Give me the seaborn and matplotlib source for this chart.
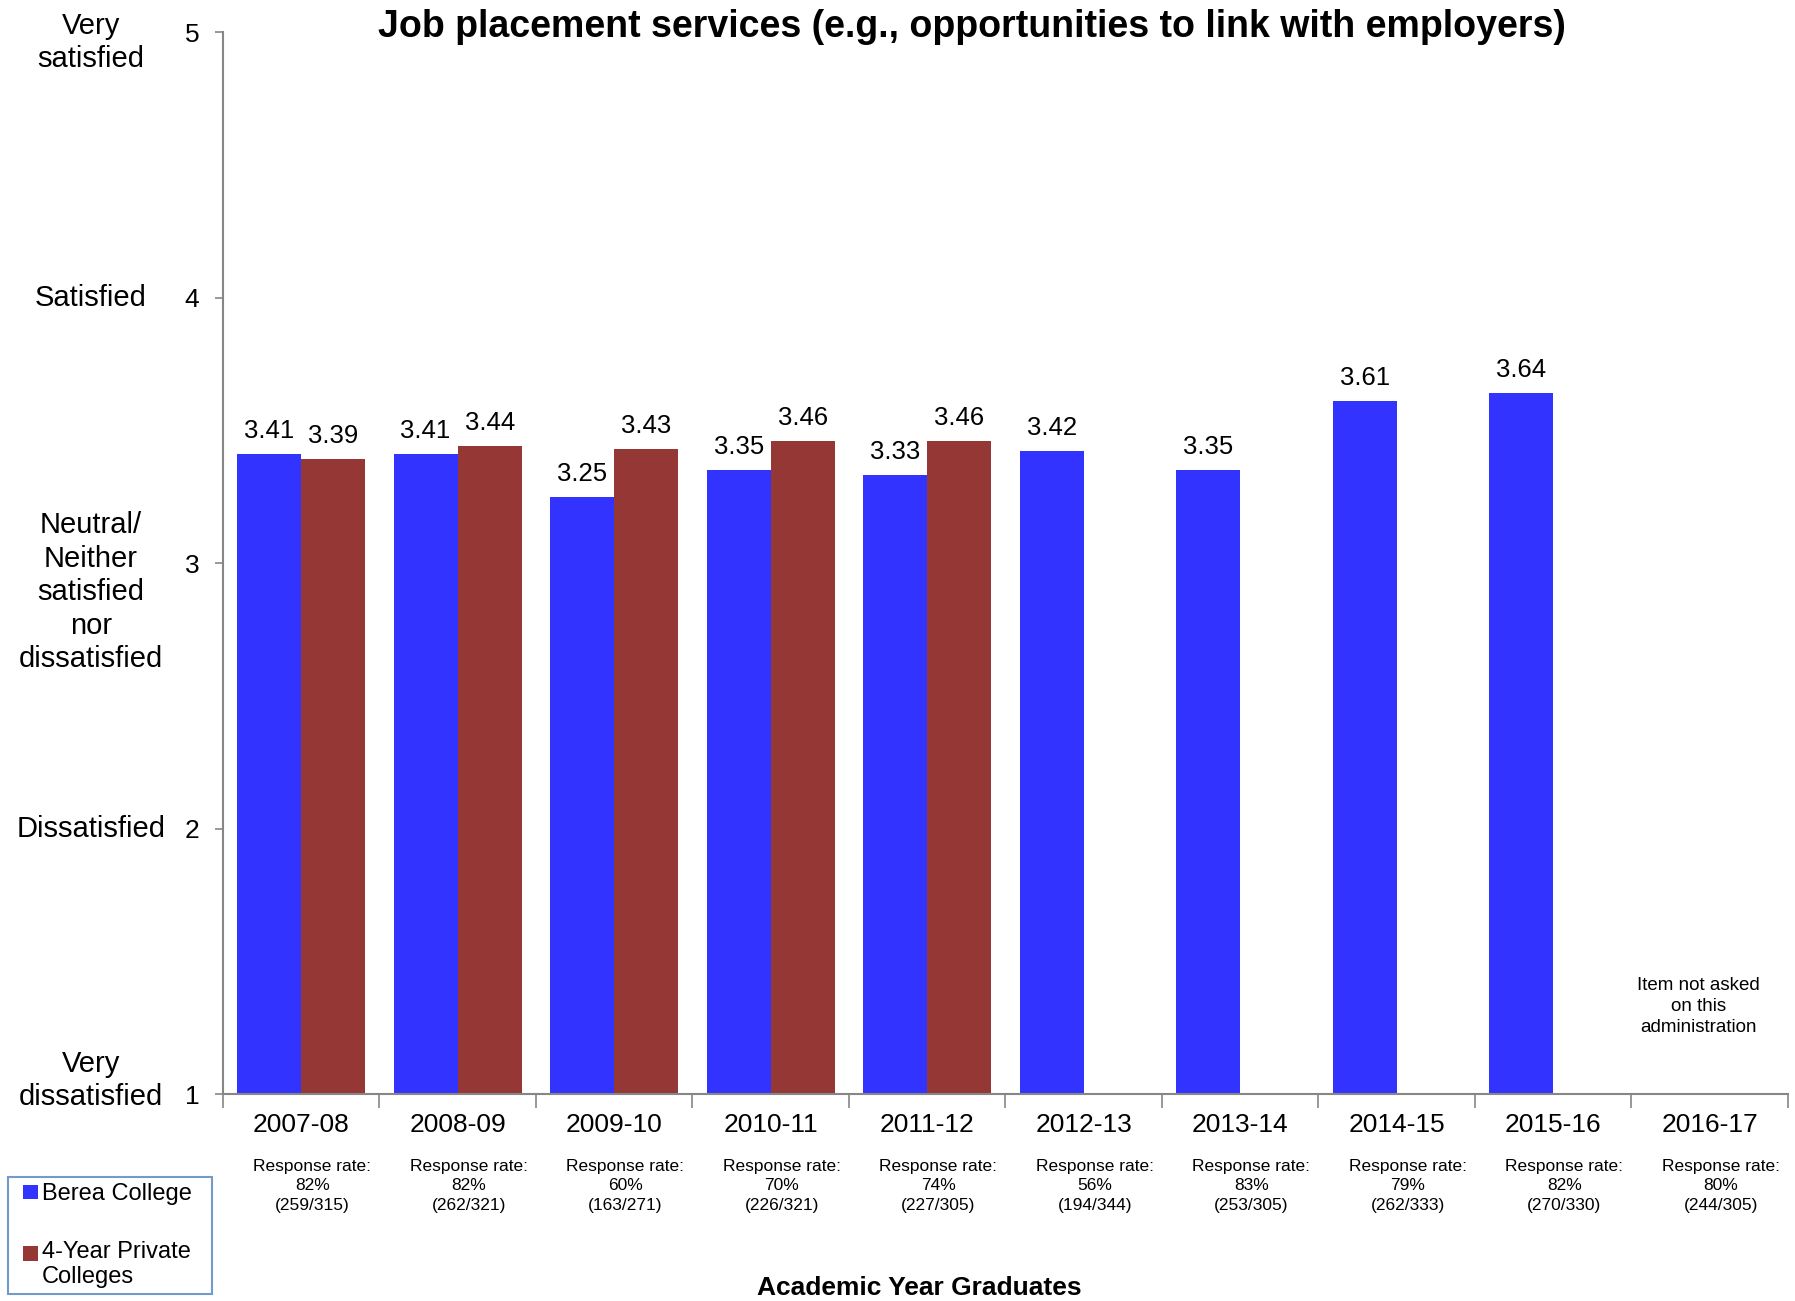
import matplotlib
matplotlib.use('Agg')
import matplotlib.pyplot as plt
import matplotlib.transforms as mtransforms
from matplotlib.legend_handler import HandlerPatch
import seaborn as sns
import numpy as np
import pandas as pd

# data
years = ['2007-08', '2008-09', '2009-10', '2010-11', '2011-12',
         '2012-13', '2013-14', '2014-15', '2015-16', '2016-17']
berea = [3.41, 3.41, 3.25, 3.35, 3.33, 3.42, 3.35, 3.61, 3.64, np.nan]
private = [3.39, 3.44, 3.43, 3.46, 3.46, np.nan, np.nan, np.nan, np.nan, np.nan]
response_pct = ['82%', '82%', '60%', '70%', '74%', '56%', '83%', '79%', '82%', '80%']
response_n = ['(259/315)', '(262/321)', '(163/271)', '(226/321)', '(227/305)',
              '(194/344)', '(253/305)', '(262/333)', '(270/330)', '(244/305)']
series = ['Berea College', '4-Year Private Colleges']
scale_ticks = [1, 2, 3, 4, 5]
scale_labels = ['Very\ndissatisfied', 'Dissatisfied',
                'Neutral/\nNeither\nsatisfied\nnor\ndissatisfied',
                'Satisfied', 'Very\nsatisfied']

df = pd.DataFrame({
    'year': years * 2,
    'score': berea + private,
    'group': [series[0]] * len(years) + [series[1]] * len(years),
})

sns.set_style('white')
plt.rcParams['font.family'] = ['Liberation Sans', 'DejaVu Sans']
plt.rcParams['text.color'] = 'black'
plt.rcParams['xtick.labelcolor'] = 'black'
plt.rcParams['ytick.labelcolor'] = 'black'

fig = plt.figure(figsize=(17.95, 13.01), dpi=100)
ax = fig.add_axes([0.1242, 0.1591, 0.8719, 0.8163])

palette = {series[0]: '#3333FF', series[1]: '#953735'}
sns.barplot(data=df, x='year', y='score', hue='group', order=years,
            hue_order=series, palette=palette, width=0.82, gap=0,
            saturation=1, errorbar=None, legend=False, linewidth=0, ax=ax)

# value labels on top of each drawn bar
for bar in ax.patches:
    h = bar.get_height()
    if np.isnan(h) or h == 0:
        continue
    ax.annotate(f'{h:.2f}', (bar.get_x() + bar.get_width() / 2, h),
                xytext=(0, 8), textcoords='offset points',
                ha='center', va='bottom', fontsize=18.5)

ax.set_ylim(1, 5)
ax.set_xlim(-0.5, len(years) - 0.5)
ax.set_yticks(scale_ticks)
ax.set_yticklabels([str(t) for t in scale_ticks], fontsize=19)
ax.tick_params(axis='y', length=6, width=1.2, color='#868686', pad=11, left=True)
ax.set_xticks(range(len(years)))
ax.set_xticklabels(years, fontsize=19)
ax.tick_params(axis='x', which='major', length=0, pad=14)
ax.set_xticks(np.arange(-0.5, len(years)), minor=True)
ax.tick_params(axis='x', which='minor', length=10, width=1.2, color='#868686', bottom=True)
ax.set_xlabel('')
ax.set_ylabel('')

sns.despine(ax=ax)
for side in ['left', 'bottom']:
    ax.spines[side].set_color('#868686')
    ax.spines[side].set_linewidth(1.5)

# verbal scale labels
trans_y = mtransforms.blended_transform_factory(ax.transAxes, ax.transData)
label_y = [1.05, 2.0, 2.89, 4.0, 4.96]
for y, lab in zip(label_y, scale_labels):
    ax.text(-0.0845, y, lab, transform=trans_y, ha='center', va='center',
            fontsize=21, linespacing=1.25)

# response rates under each year
trans_x = mtransforms.blended_transform_factory(ax.transData, fig.transFigure)
for i, (p, n) in enumerate(zip(response_pct, response_n)):
    ax.text(i + 0.07, 1 - 1186 / 1301, f'Response rate:\n{p}\n{n}', transform=trans_x,
            ha='center', va='center', fontsize=12.5, linespacing=1.35)

ax.text(8.93, 1.33, 'Item not asked\non this\nadministration', ha='center',
        va='center', fontsize=13.5, linespacing=1.3)

fig.text(0.5415, 1 - 27 / 1301, 'Job placement services (e.g., opportunities to link with employers)',
         ha='center', va='center', fontsize=27, fontweight='bold')
fig.text(919 / 1795, 1 - 1288 / 1301, 'Academic Year Graduates', ha='center',
         va='center', fontsize=19, fontweight='bold')


class SquareHandler(HandlerPatch):
    # small square at the right of the handle box, lifted to the first text line
    def __init__(self, shift=0):
        super().__init__()
        self.shift = shift

    def create_artists(self, legend, orig_handle, xdescent, ydescent, width,
                       height, fontsize, trans):
        size = height
        rect = plt.Rectangle((-xdescent + width - size, -ydescent + self.shift),
                             size, size, facecolor=orig_handle.get_facecolor(),
                             edgecolor='none', transform=trans)
        return [rect]


handles = [plt.Rectangle((0, 0), 1, 1, color=palette[s]) for s in series]
leg = fig.legend(handles, ['Berea College', '4-Year Private\nColleges'],
                 loc='lower left', bbox_to_anchor=(8 / 1795, 7 / 1301, 204 / 1795, 113 / 1301),
                 mode='expand', fontsize=17, frameon=True, fancybox=False,
                 handlelength=1.0, handleheight=0.55, handletextpad=0.2,
                 labelspacing=1.5, borderpad=0.25, borderaxespad=0,
                 handler_map={handles[0]: SquareHandler(0), handles[1]: SquareHandler(8)})
leg.get_frame().set_edgecolor('#4F81BD')
leg.get_frame().set_linewidth(1.5)

fig.savefig('out.png', dpi=100)
